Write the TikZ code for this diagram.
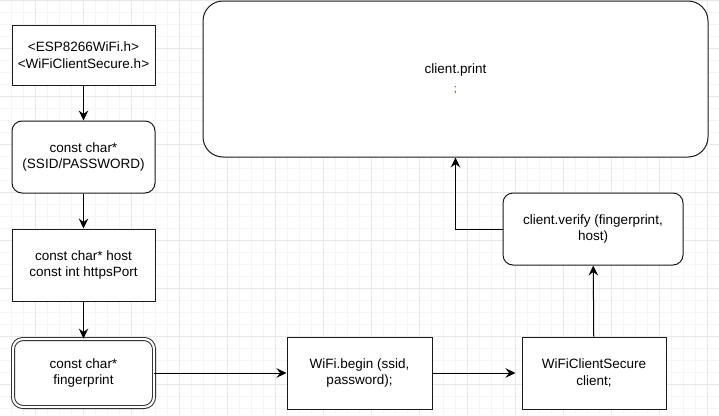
\documentclass[tikz,border=0pt]{standalone}
\usepackage{fontspec}
\setmainfont{Liberation Sans}
\usetikzlibrary{arrows.meta}
\definecolor{gridmajor}{HTML}{E8E8E8}
\definecolor{gridminor}{HTML}{F5F5F5}
\definecolor{semired}{HTML}{A31515}
\definecolor{edge}{HTML}{1A1A1A}
\begin{document}
\begin{tikzpicture}[x=1pt,y=-1pt,
  every node/.style={font=\fontsize{13.5}{16.5}\selectfont, align=center, inner sep=2pt},
  box/.style={draw=edge, line width=1pt, fill=white, rectangle},
  rbox/.style={box, rounded corners=10pt},
  dbox/.style={draw=edge, line width=0.9pt, double=white, double distance=2.2pt, fill=white, rounded corners=10pt},
  conn/.style={draw=black, line width=1pt, -{Stealth[length=10pt,width=9.5pt,inset=3.5pt]}}
]
\useasboundingbox (0,0) rectangle (719,415);
\fill[white] (0,0) rectangle (719,415);
% grid
\foreach \x in {0,...,60} {\draw[gridminor, line width=0.6pt] ({-0.7+12*\x},0) -- ({-0.7+12*\x},415);}
\foreach \y in {0,...,35} {\draw[gridminor, line width=0.6pt] (0,{0.3+12*\y}) -- (719,{0.3+12*\y});}
\foreach \x in {0,...,15} {\draw[gridmajor, line width=0.8pt] ({-12.7+48*\x},0) -- ({-12.7+48*\x},415);}
\foreach \y in {0,...,9} {\draw[gridmajor, line width=0.8pt] (0,{0.3+48*\y}) -- (719,{0.3+48*\y});}

% nodes
\node[box, minimum width=143pt, minimum height=60pt] (n1) at (83.5,55) {<ESP8266WiFi.h>\\<WiFiClientSecure.h>};
\node[rbox, minimum width=143pt, minimum height=72pt] (n2) at (83.5,157) {const char*\\(SSID/PASSWORD)};
\node[box, minimum width=143pt, minimum height=72pt] (n3) at (83.5,265) {const char* host\\const int httpsPort};
\node[dbox, minimum width=141pt, minimum height=68pt] (n4) at (83.5,373) {const char*\\fingerprint};
\node[box, minimum width=145pt, minimum height=72pt] (n5) at (359.5,373) {WiFi.begin (ssid,\\password);};
\node[box, minimum width=144pt, minimum height=72pt] (n6) at (594,373) {WiFiClientSecure\\client;};
\node[rbox, minimum width=180pt, minimum height=72pt] (n7) at (593,229) {client.verify (fingerprint,\\host)};
\node[box, rounded corners=20pt, minimum width=505pt, minimum height=156pt] (n8) at (455.5,79) {client.print\\[3pt]{\color{semired}\fontsize{11}{12}\selectfont ;}};

% connectors
\draw[conn] (n1) -- (n2);
\draw[conn] (n2) -- (n3);
\draw[conn] (n3) -- (n4);
\draw[conn] (n4) -- (n5);
\draw[conn, shorten >=6pt] (n5) -- (n6);
\draw[conn] (n6) -- (n7);
\draw[conn] (n7.west) -| (n8.south);
\end{tikzpicture}
\end{document}
